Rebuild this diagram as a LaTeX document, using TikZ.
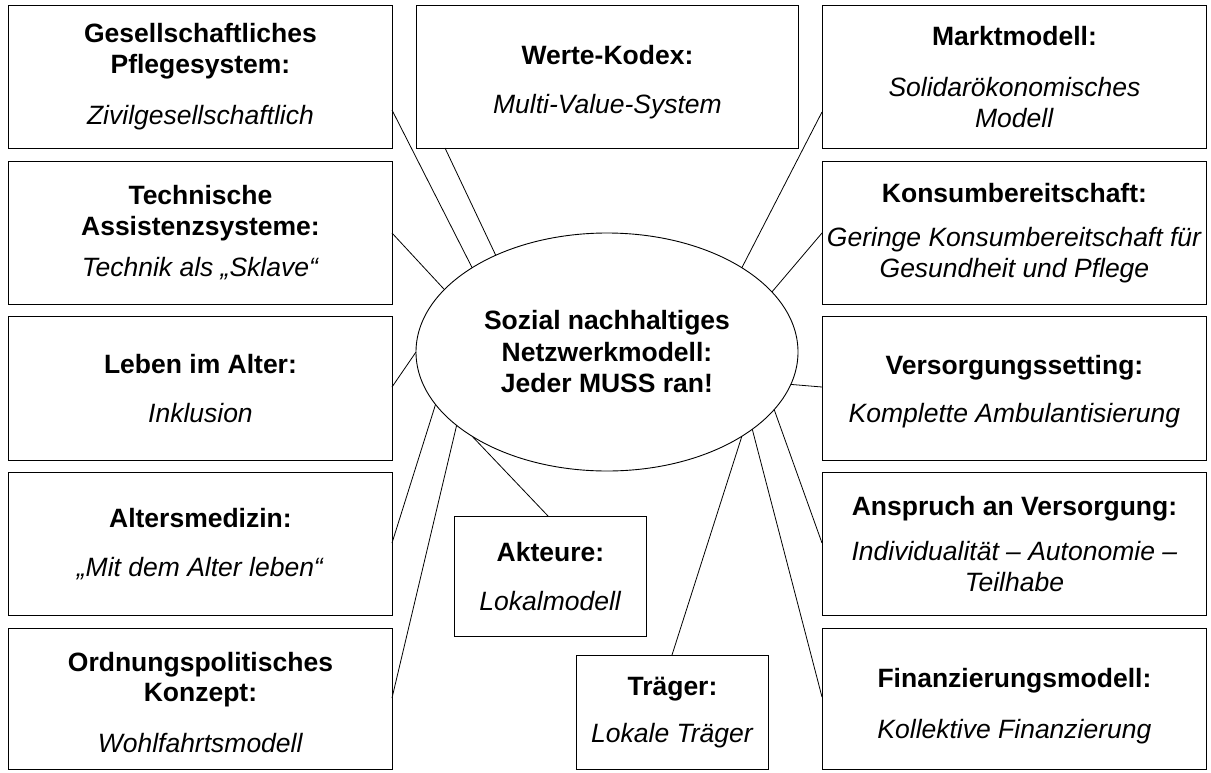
\documentclass[tikz,border=0pt]{standalone}
\usepackage{fontspec}
\setmainfont{Liberation Sans}
\usetikzlibrary{shapes.geometric}
\begin{document}
\begin{tikzpicture}[x=1pt,y=-1pt,
  box/.style={draw, line width=0.9pt, rectangle, anchor=north west, inner sep=0pt, align=center,
    font=\fontsize{26.5}{30.5}\selectfont},
  colbox/.style={box, minimum width=384pt},
  conn/.style={line width=0.8pt}]
\useasboundingbox (0,0) rectangle (1211,772);

% left column
\node[colbox, minimum height=143pt] (b1) at (8,5)
  {\textbf{Gesellschaftliches}\\\textbf{Pflegesystem:}\\[21pt]\textit{Zivilgesellschaftlich}};
\node[colbox, minimum height=143pt] (b2) at (8,161)
  {\textbf{Technische}\\\textbf{Assistenzsysteme:}\\[11pt]\textit{Technik als „Sklave“}};
\node[colbox, minimum height=144pt] (b3) at (8,316)
  {\textbf{Leben im Alter:}\\[18pt]\textit{Inklusion}};
\node[colbox, minimum height=143pt] (b4) at (8,472)
  {\textbf{Altersmedizin:}\\[18pt]\textit{„Mit dem Alter leben“}};
\node[colbox, minimum height=141pt] (b5) at (8,628)
  {\rule{0pt}{25.5pt}\textbf{Ordnungspolitisches}\\\textbf{Konzept:}\\[20pt]\textit{Wohlfahrtsmodell}};

% top middle
\node[box, minimum width=382pt, minimum height=143pt] (w) at (416,5)
  {\rule{0pt}{29.5pt}\textbf{Werte-Kodex:}\\[19pt]\textit{Multi-Value-System}};

% right column
\node[colbox, minimum height=143pt] (r1) at (822,5)
  {\textbf{Marktmodell:}\\[21pt]\textit{Solidarökonomisches}\\\textit{Modell}};
\node[colbox, minimum height=143pt] (r2) at (822,161)
  {\textbf{Konsumbereitschaft:}\\[14pt]\textit{Geringe Konsumbereitschaft für}\\\textit{Gesundheit und Pflege}};
\node[colbox, minimum height=144pt] (r3) at (822,316)
  {\rule{0pt}{25.5pt}\textbf{Versorgungssetting:}\\[18pt]\textit{Komplette Ambulantisierung}};
\node[colbox, minimum height=143pt] (r4) at (822,472)
  {\textbf{Anspruch an Versorgung:}\\[15pt]\textit{Individualität – Autonomie –}\\\textit{Teilhabe}};
\node[colbox, minimum height=141pt] (r5) at (822,628)
  {\rule{0pt}{33.5pt}\textbf{Finanzierungsmodell:}\\[21pt]\textit{Kollektive Finanzierung}};

% bottom middle
\node[box, minimum width=192pt, minimum height=120pt] (a) at (454,516)
  {\textbf{Akteure:}\\[18pt]\textit{Lokalmodell}};
\node[box, minimum width=192pt, minimum height=114pt] (t) at (576,655)
  {\textbf{Träger:}\\[16pt]\textit{Lokale Träger}};

% centre
\node[draw, ellipse, line width=0.9pt, minimum width=382pt, minimum height=238pt,
  inner sep=0pt, outer sep=0pt, align=center, font=\fontsize{26.5}{31.5}\selectfont\bfseries] (E) at (607,352)
  {Sozial nachhaltiges\\Netzwerkmodell:\\Jeder MUSS ran!};

% connector end points on boxes
\coordinate (p1) at (392,110);
\coordinate (p2) at (445,148);
\coordinate (p3) at (392,233);
\coordinate (p4) at (392,387);
\coordinate (p5) at (392,543);
\coordinate (p6) at (392,698);
\coordinate (p7) at (548,516);
\coordinate (p8) at (672,655);
\coordinate (p9) at (822,697);
\coordinate (p10) at (822,543);
\coordinate (p11) at (822,387);
\coordinate (p12) at (822,233);
\coordinate (p13) at (822,112);

\draw[conn] (E.148) -- (p1);
\draw[conn] (E.139) -- (p2);
\draw[conn] (E.159) -- (p3);
\draw[conn] (E.180) -- (p4);
\draw[conn] (E.197) -- (p5);
\draw[conn] (E.206) -- (p6);
\draw[conn] (E.212) -- (p7);
\draw[conn] (E.328) -- (p8);
\draw[conn] (E.332) -- (p9);
\draw[conn] (E.341) -- (p10);
\draw[conn] (E.350) -- (p11);
\draw[conn] (E.20) -- (p12);
\draw[conn] (E.32) -- (p13);
\end{tikzpicture}
\end{document}
